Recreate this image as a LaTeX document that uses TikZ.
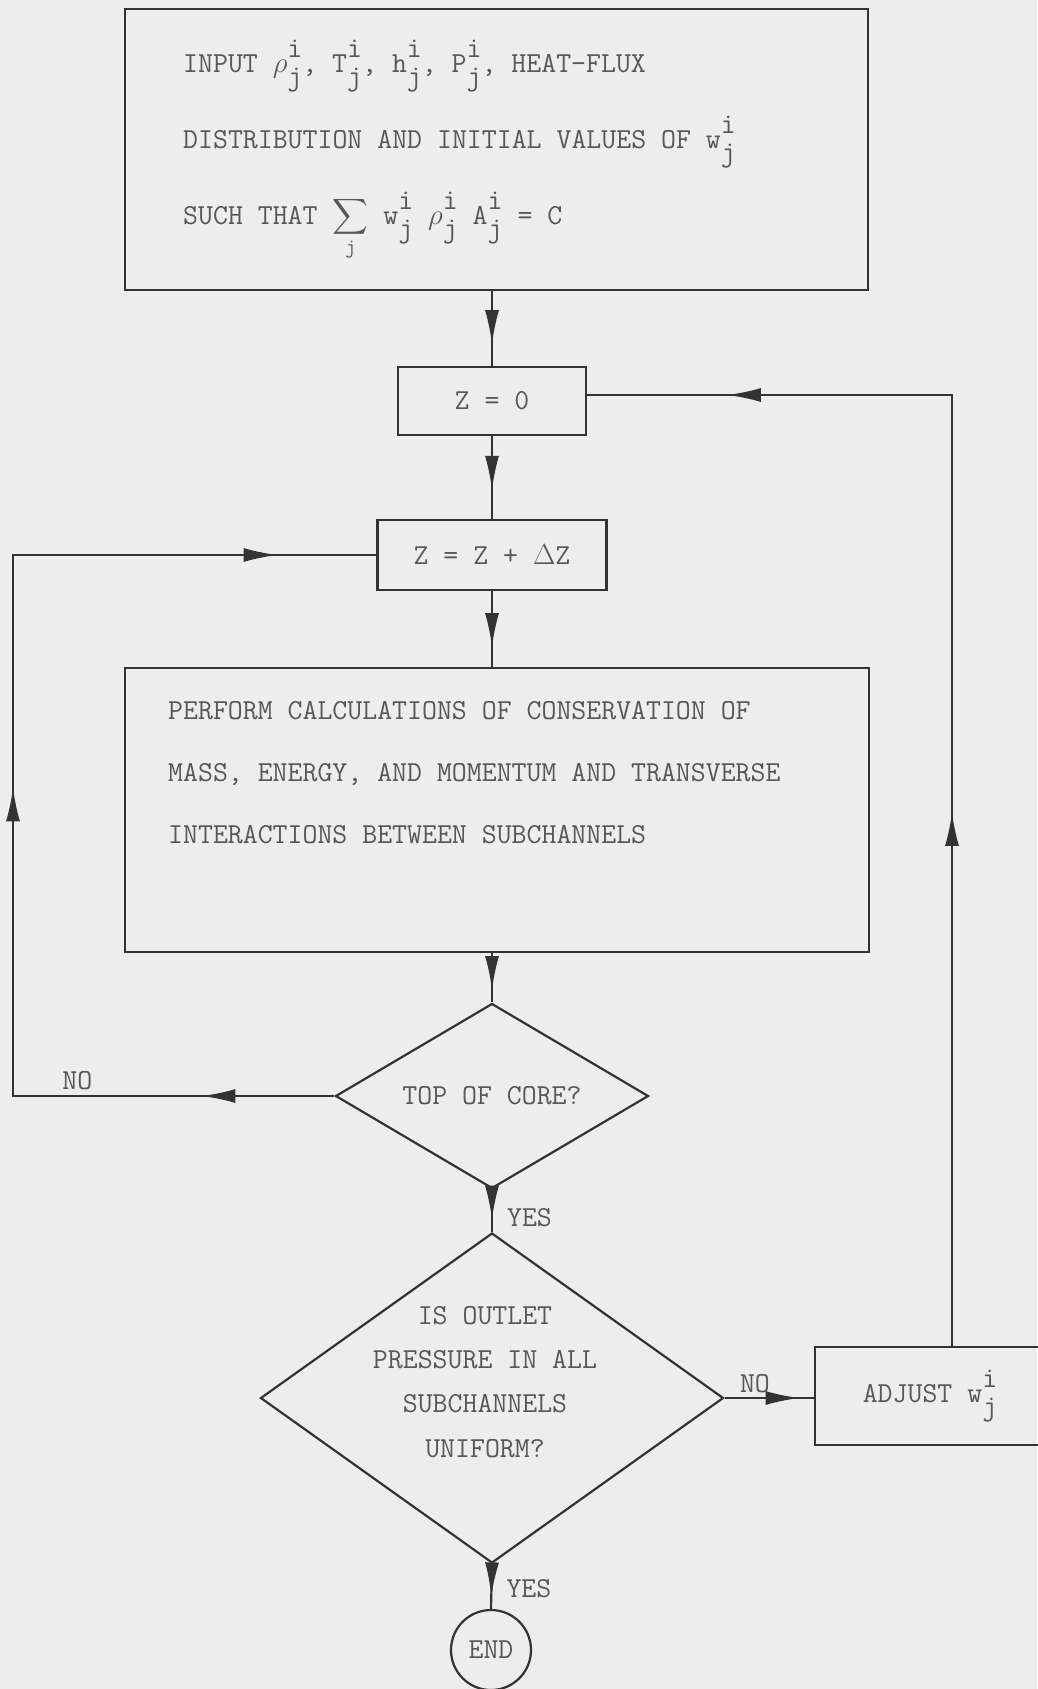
\RequirePackage{fix-cm}
\documentclass[tikz,border=0pt]{standalone}
\usepackage{amsmath}
\usepackage{exscale}
\usetikzlibrary{%
  arrows.meta,%
  shapes.geometric,%
  decorations.markings%
}

\newcommand{\sij}{\rlap{\raisebox{0.5em}{i}}\raisebox{-0.45em}{j}}

\tikzset{
  flowline/.style={draw=black!80,line width=2.2pt},
  flowbox/.style={flowline,rectangle,inner sep=0pt},
  decision/.style={flowline,diamond,inner sep=0pt},
  flowtext/.style={text=black!66,inner sep=0pt,font=\ttfamily\fontsize{29}{#1}\selectfont},
  flowtext/.default=35,
  tip/.tip={Latex[length=34pt,width=14pt]},
  midarrow/.style={decoration={markings,mark=at position #1 with {\arrow{tip}}},postaction={decorate}}
}

\begin{document}
\begin{tikzpicture}[x=1pt,y=-1pt]
  \path[use as bounding box,fill=black!7] (0,0) rectangle (1037,1689);

  \node[flowbox,minimum width=743pt,minimum height=281pt] (input) at (496.5,149.5) {};
  \node[flowtext=76,align=left,anchor=north west] (inputtxt) at (183,40)
    {INPUT $\rho$\sij, T\sij, h\sij, P\sij, HEAT-FLUX\\
     DISTRIBUTION AND INITIAL VALUES OF w\sij\\
     SUCH THAT $\displaystyle\sum_{\mathtt{j}}$\ w\sij\ $\rho$\sij\ A\sij{} = C};

  \node[flowbox,flowtext,minimum width=188pt,minimum height=68pt] (zzero) at (492,401) {Z = 0};
  \node[flowbox,flowtext,minimum width=229pt,minimum height=70pt] (zstep) at (492,555) {Z = Z + $\Delta$Z};

  \node[flowbox,minimum width=744pt,minimum height=284pt] (perform) at (497,810) {};
  \node[flowtext=62,align=left,anchor=north west] (performtxt) at (168,701)
    {PERFORM CALCULATIONS OF CONSERVATION OF\\
     MASS, ENERGY, AND MOMENTUM AND TRANSVERSE\\
     INTERACTIONS BETWEEN SUBCHANNELS};

  \node[decision,flowtext,aspect=1.69,minimum width=313pt,minimum height=185pt] (top) at (492,1096) {TOP OF CORE?};

  \node[decision,aspect=1.4,minimum width=463pt,minimum height=330pt] (uniform) at (492,1398) {};
  \node[flowtext=44.3,align=center,anchor=north] (uniformtxt) at (485,1306)
    {IS OUTLET\\ PRESSURE IN ALL\\ SUBCHANNELS\\ UNIFORM?};

  \node[flowbox,flowtext,minimum width=230pt,minimum height=98pt] (adjust) at (930,1396) {ADJUST w\sij};
  \node[flowline,circle,flowtext,minimum size=80pt] (endnode) at (491,1650) {END};

  \coordinate (loopx) at (13,0);
  \coordinate (fbturn) at (952,395);

  \draw[flowline,midarrow=0.71] (input.south -| zzero.north) -- (zzero.north);
  \draw[flowline,midarrow=0.65] (zzero.south) -- (zstep.north);
  \draw[flowline,midarrow=0.74] (zstep.south) -- (zstep.south |- perform.north);
  \draw[flowline,midarrow=0.75] (perform.south -| top.north) -- (top.north);
  \draw[flowline,midarrow=0.71] (top.south) -- node[flowtext,right=14pt,pos=0.67] (yestop) {YES} (uniform.north);
  \draw[flowline,midarrow=0.72] (uniform.south) -- node[flowtext,right=14pt,pos=0.55] (yesend) {YES} (endnode.north);
  \draw[flowline,midarrow=0.84] (uniform.east) -- node[flowtext,above=4pt,pos=0.34] (noadjust) {NO} (uniform.east -| adjust.west);

  \draw[flowline,
    decoration={markings,
      mark=at position 133pt with {\arrow{tip}},
      mark=at position 630pt with {\arrow{tip}},
      mark=at position 1127pt with {\arrow{tip}}},
    postaction={decorate}]
    (top.west) -- node[flowtext,above=5pt,pos=0.8] (notop) {NO} (top.west -| loopx)
    -- (zstep.west -| loopx) -- (zstep.west);

  \draw[flowline,
    decoration={markings,
      mark=at position 534pt with {\arrow{tip}},
      mark=at position 1176pt with {\arrow{tip}}},
    postaction={decorate}]
    (adjust.north -| fbturn) -- (fbturn) -- (fbturn -| zzero.east);
\end{tikzpicture}
\end{document}
